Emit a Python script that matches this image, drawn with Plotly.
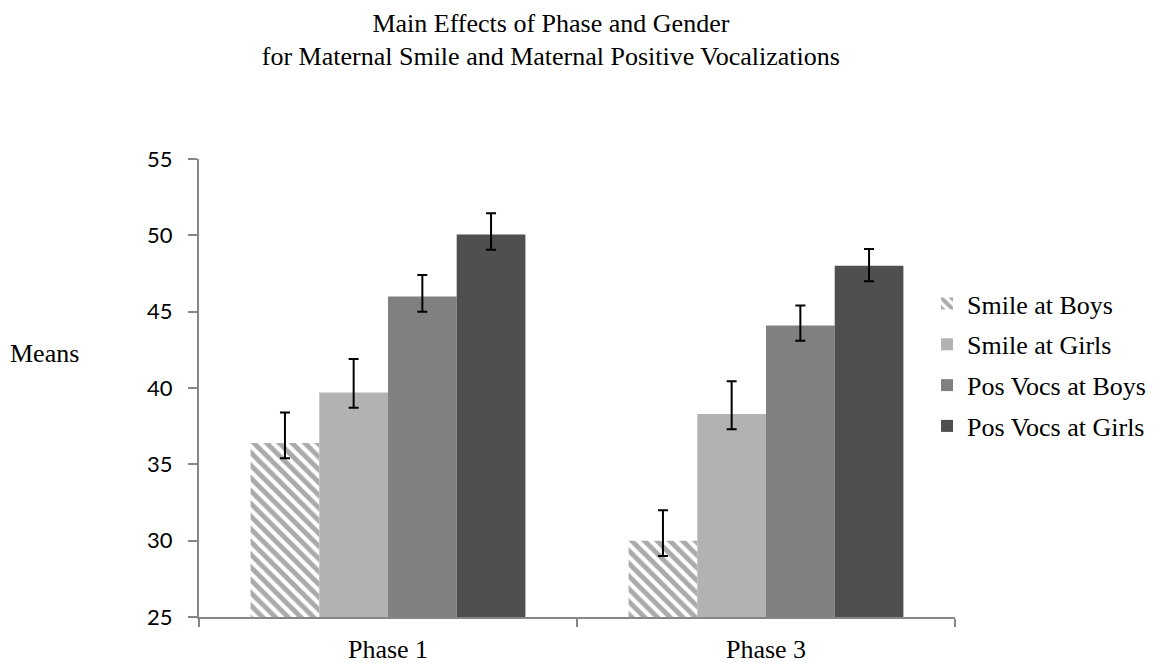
import plotly.graph_objects as go

phases = ["Phase 1", "Phase 3"]
series_names = ["Smile at Boys", "Smile at Girls", "Pos Vocs at Boys", "Pos Vocs at Girls"]
means = {
    "Smile at Boys": [36.4, 30.0],
    "Smile at Girls": [39.7, 38.3],
    "Pos Vocs at Boys": [46.0, 44.1],
    "Pos Vocs at Girls": [50.05, 48.0],
}
err_plus = {
    "Smile at Boys": [2.0, 2.0],
    "Smile at Girls": [2.2, 2.15],
    "Pos Vocs at Boys": [1.4, 1.3],
    "Pos Vocs at Girls": [1.4, 1.1],
}
err_minus = {
    "Smile at Boys": [1.0, 1.0],
    "Smile at Girls": [1.0, 1.0],
    "Pos Vocs at Boys": [1.0, 1.0],
    "Pos Vocs at Girls": [1.0, 1.0],
}
colors = {
    "Smile at Boys": "#ffffff",
    "Smile at Girls": "#b2b2b2",
    "Pos Vocs at Boys": "#808080",
    "Pos Vocs at Girls": "#4f4f4f",
}

serif = "Liberation Serif"
sans = "Lato"

fig = go.Figure()
for i, name in enumerate(series_names):
    marker = dict(color=colors[name], line=dict(width=0))
    if name == "Smile at Boys":
        marker["pattern"] = dict(shape="\\", fgcolor="#555555", bgcolor="#ffffff",
                                 size=9, solidity=0.55, fillmode="overlay")
    fig.add_trace(go.Bar(
        x=phases, y=means[name], name=name, marker=marker,
        legendgroup=str(i),
        error_y=dict(type="data", symmetric=False, array=err_plus[name],
                     arrayminus=err_minus[name], color="black", thickness=2, width=5),
    ))

# page body has an 8px default margin, so the figure is sized 8px smaller
fig.update_layout(
    width=1160, height=655,
    paper_bgcolor="white", plot_bgcolor="white",
    margin=dict(l=191, r=213, t=151, b=46),
    barmode="group", bargap=0.273, bargroupgap=0,
    title=dict(text="Main Effects of Phase and Gender<br>for Maternal Smile and Maternal Positive Vocalizations",
               x=0.468, xanchor="center", y=0.964, yanchor="middle",
               font=dict(family=serif, size=26, color="black")),
    legend=dict(x=0.963, xanchor="left", y=0.55, yanchor="middle",
                font=dict(family=serif, size=26, color="black"),
                traceorder="grouped", tracegroupgap=4, bgcolor="rgba(0,0,0,0)"),
    xaxis=dict(showline=True, linecolor="#868686", linewidth=2, ticks="outside",
               tickson="boundaries", ticklen=8, tickcolor="#868686", tickwidth=1.5,
               tickfont=dict(family=serif, size=26, color="black"), showgrid=False,
               ticklabelstandoff=8, automargin=False),
    yaxis=dict(range=[25, 55], dtick=5, showline=True, linecolor="#868686", linewidth=2,
               ticks="outside", ticklen=9, tickcolor="#868686", tickwidth=1.5,
               tickfont=dict(family=sans, size=22, color="black"), showgrid=False,
               zeroline=False, ticklabelstandoff=11, automargin=False),
    annotations=[dict(text="Means", xref="paper", yref="paper", x=-0.204, y=0.576,
                      xanchor="center", yanchor="middle", showarrow=False,
                      font=dict(family=serif, size=26, color="black"))],
)

fig.write_html("out.html")
